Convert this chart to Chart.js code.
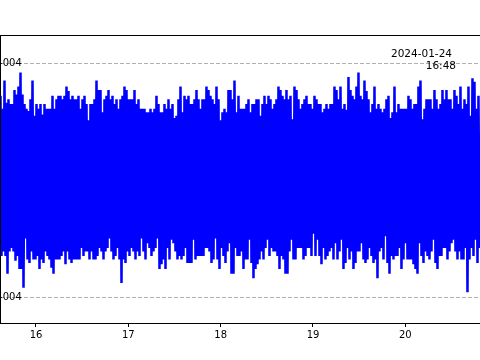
<!DOCTYPE html>
<html lang="en">
<head>
    <meta charset="UTF-8">
    <title>Signal trace</title>
    <script src="https://cdn.jsdelivr.net/npm/chart.js"></script>
    <style>
        body {
            margin: 0;
            width: 480px;
            height: 360px;
            overflow: hidden;
            background: #ffffff;
            position: relative;
        }
        #wrap {
            position: absolute;
            left: -60px;
            top: 0;
        }
    </style>
</head>
<body>
    <div id="wrap"><canvas id="trace" width="545" height="360"></canvas></div>

    <script>
        // sampling of the trace (day of month)
        const startDay = 15.6155;
        const stepDays = 0.02166;

        // per-sample high / low values, in units of 1e-6
        const highs = [
            72,61,85,66,69,65,65,77,73,80, 92,73,65,61,59,69,85,55,65,61,
            65,56,65,61,61,61,72,61,69,72, 72,69,72,80,76,69,72,69,69,72,
            61,69,72,65,51,65,65,69,85,77, 77,58,69,72,77,69,72,65,69,61,
            69,72,80,77,69,69,69,77,65,69, 61,61,61,58,58,61,58,61,72,65,
            58,58,65,61,69,61,65,53,55,69, 80,58,72,69,72,65,65,69,77,69,
            61,69,69,80,77,72,69,65,80,69, 51,58,61,58,77,77,69,85,58,72,
            61,61,61,65,69,58,65,65,69,69, 55,65,72,65,72,69,61,65,69,80,
            77,72,69,77,69,72,52,80,77,69, 61,65,69,72,65,65,61,72,69,65,
            65,58,61,65,61,65,65,80,77,69, 80,61,65,60,88,77,72,69,80,92,
            72,69,85,76,69,58,65,80,61,65, 61,58,61,69,72,53,58,80,58,65,
            61,61,61,61,72,69,61,65,65,80, 85,52,61,69,69,69,61,77,69,61,
            65,77,69,77,69,69,61,77,72,65, 80,61,69,65,80,55,87,84,61,72
        ];
        const lows = [
            -65,-61,-65,-80,-61,-58,-61,-69,-65,-76, -76,-92,-50,-68,-71,-61,-68,-68,-65,-76,
            -68,-71,-61,-65,-68,-75,-80,-68,-68,-68, -65,-61,-72,-61,-68,-71,-68,-68,-68,-68,
            -58,-65,-61,-61,-68,-61,-68,-68,-65,-58, -61,-68,-61,-58,-50,-61,-68,-65,-58,-68,
            -88,-68,-71,-61,-65,-58,-61,-68,-61,-65, -50,-61,-68,-54,-58,-65,-61,-58,-50,-76,
            -72,-68,-76,-58,-68,-51,-54,-61,-68,-65, -68,-65,-58,-71,-71,-71,-51,-68,-65,-65,
            -65,-65,-58,-58,-61,-71,-68,-50,-68,-76, -58,-65,-71,-61,-54,-80,-80,-58,-65,-65,
            -61,-76,-68,-68,-51,-71,-84,-76,-72,-68, -61,-68,-58,-51,-65,-58,-61,-61,-65,-76,
            -65,-68,-80,-80,-61,-51,-68,-68,-58,-58, -58,-68,-65,-58,-58,-65,-46,-65,-51,-65,
            -72,-58,-68,-65,-61,-58,-68,-54,-68,-61, -51,-76,-71,-58,-68,-61,-76,-71,-61,-61,
            -54,-68,-71,-68,-58,-65,-71,-68,-84,-61, -58,-68,-48,-71,-80,-65,-68,-65,-65,-58,
            -76,-68,-54,-68,-68,-68,-72,-76,-80,-54, -65,-71,-61,-65,-68,-61,-51,-71,-76,-65,
            -65,-58,-58,-68,-61,-54,-51,-61,-68,-61, -68,-68,-58,-96,-68,-58,-65,-51,-71,-58
        ];

        // axes
        const dayTicks = [16, 17, 18, 19, 20];
        const yTicks = [-100, 100];
        const yTickLabels = ['-1e-004', '1e-004'];
        const stampLines = ['2024-01-24', '16:48'];

        // high/low pairs -> one continuous trace
        const points = [];
        highs.forEach((h, i) => {
            const t = startDay + i * stepDays;
            points.push({ x: t, y: h });
            points.push({ x: t + stepDays / 2, y: lows[i] });
        });

        // frame round the plot and the timestamp text
        const framePlugin = {
            id: 'frame',
            afterDraw(chart) {
                const { ctx, chartArea: a } = chart;
                ctx.save();
                ctx.strokeStyle = '#000';
                ctx.lineWidth = 1;
                ctx.strokeRect(a.left + 0.5, a.top - 0.5, a.right - a.left, a.bottom - a.top + 1);
                ctx.fillStyle = '#000';
                ctx.font = '10.5px "DejaVu Sans"';
                ctx.textAlign = 'right';
                ctx.textBaseline = 'middle';
                ctx.fillText(stampLines[0], 60 + 452, 54);
                ctx.fillText(stampLines[1], 60 + 456, 66);
                ctx.restore();
            }
        };

        Chart.defaults.font.family = '"DejaVu Sans", sans-serif';
        Chart.defaults.font.size = 10;
        Chart.defaults.color = '#000';

        new Chart(document.getElementById('trace'), {
            type: 'line',
            data: {
                datasets: [{
                    data: points,
                    borderColor: '#0000ff',
                    borderWidth: 2.5,
                    pointRadius: 0,
                    tension: 0,
                    fill: false
                }]
            },
            options: {
                responsive: false,
                animation: false,
                layout: { padding: { top: 36, right: 4, bottom: 0, left: 0 } },
                plugins: { legend: { display: false }, tooltip: { enabled: false } },
                scales: {
                    x: {
                        type: 'linear',
                        min: 15.6101,
                        max: 20.8196,
                        afterBuildTicks: s => { s.ticks = dayTicks.map(v => ({ value: v })); },
                        afterFit: s => { s.height = 37; },
                        border: { display: false },
                        grid: { drawOnChartArea: false, drawTicks: true, tickLength: 4, color: '#000' },
                        ticks: { padding: 2, maxRotation: 0, callback: v => String(v) }
                    },
                    y: {
                        min: -122.2,
                        max: 123.1,
                        afterBuildTicks: s => { s.ticks = yTicks.map(v => ({ value: v })); },
                        afterFit: s => { s.width = 60; },
                        border: { display: false, dash: [4, 2] },
                        grid: { color: '#b0b0b0', drawTicks: false, lineWidth: 1 },
                        ticks: {
                            mirror: true,
                            crossAlign: 'far',
                            padding: -17,
                            callback: v => yTickLabels[yTicks.indexOf(v)]
                        }
                    }
                }
            },
            plugins: [framePlugin]
        });
    </script>
</body>
</html>
